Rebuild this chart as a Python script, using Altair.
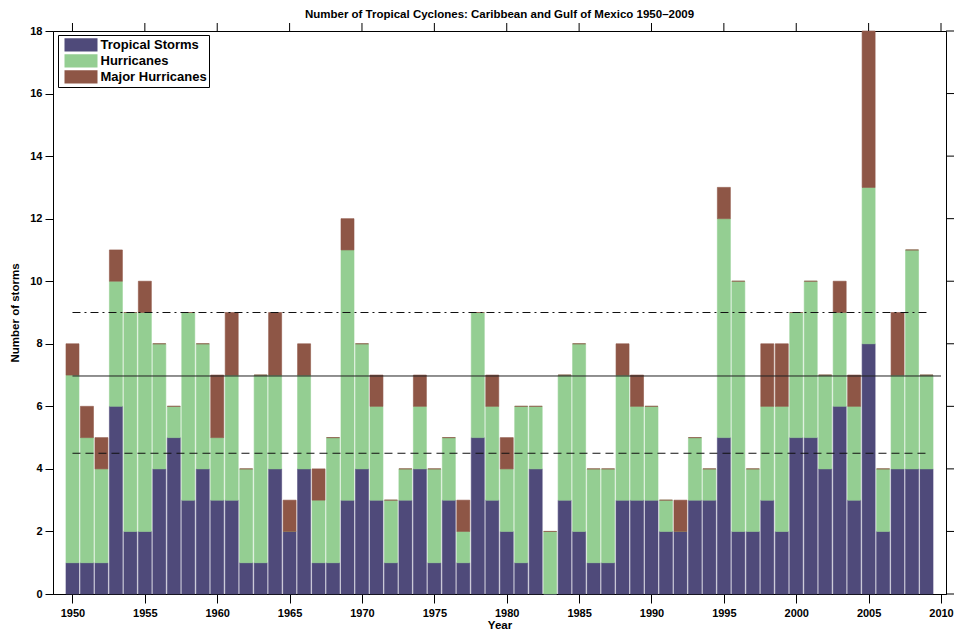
import altair as alt
import pandas as pd

years = list(range(1950, 2010))
tropical_storms = [1, 1, 1, 6, 2, 2, 4, 5, 3, 4,
                   3, 3, 1, 1, 4, 2, 4, 1, 1, 3,
                   4, 3, 1, 3, 4, 1, 3, 1, 5, 3,
                   2, 1, 4, 0, 3, 2, 1, 1, 3, 3,
                   3, 2, 2, 3, 3, 5, 2, 2, 3, 2,
                   5, 5, 4, 6, 3, 8, 2, 4, 4, 4]
hurricanes = [6, 4, 3, 4, 7, 7, 4, 1, 6, 4,
              2, 4, 3, 6, 3, 0, 3, 2, 4, 8,
              4, 3, 2, 1, 2, 3, 2, 1, 4, 3,
              2, 5, 2, 2, 4, 6, 3, 3, 4, 3,
              3, 1, 0, 2, 1, 7, 8, 2, 3, 4,
              4, 5, 3, 3, 3, 5, 2, 3, 7, 3]
major_hurricanes = [1, 1, 1, 1, 0, 1, 0, 0, 0, 0,
                    2, 2, 0, 0, 2, 1, 1, 1, 0, 1,
                    0, 1, 0, 0, 1, 0, 0, 1, 0, 1,
                    1, 0, 0, 0, 0, 0, 0, 0, 1, 1,
                    0, 0, 1, 0, 0, 1, 0, 0, 2, 2,
                    0, 0, 0, 1, 1, 5, 0, 2, 0, 0]
series_names = ["Tropical Storms", "Hurricanes", "Major Hurricanes"]
series_colors = ["#4f4a7a", "#94ce92", "#8e5646"]

ref_kind = ["mean", "upper", "lower"]
ref_levels = [6.97, 9.0, 4.5]
ref_start = [1950, 1950, 1950]
ref_end = [2010, 2009, 2009]

x_ticks = list(range(1950, 2011, 5))
y_ticks = list(range(0, 19, 2))

FONT = "Liberation Sans"
W, H = 893, 563

rows = []
for i, yr in enumerate(years):
    for k, vals in enumerate([tropical_storms, hurricanes, major_hurricanes]):
        rows.append({"year": yr, "series": series_names[k], "count": vals[i], "order": k})
df = pd.DataFrame(rows)

ref_df = pd.DataFrame({"kind": ref_kind, "level": ref_levels, "x0": ref_start, "x1": ref_end})
top_tick_df = pd.DataFrame({"tx": x_ticks})
right_tick_df = pd.DataFrame({"ty": y_ticks})

x_scale = alt.Scale(domain=[1949, 2010], nice=False, zero=False)
y_scale = alt.Scale(domain=[0, 18], nice=False)

bars = alt.Chart(df).mark_bar(size=13, strokeWidth=0.6).encode(
    x=alt.X("year:Q", scale=x_scale,
            axis=alt.Axis(values=x_ticks, format="d", title="Year", orient="bottom",
                          labelPadding=4, titlePadding=1, tickSize=9)),
    y=alt.Y("count:Q", stack="zero", scale=y_scale,
            axis=alt.Axis(values=y_ticks, title="Number of storms", orient="left",
                          labelPadding=3, titlePadding=9, tickSize=8)),
    color=alt.Color("series:N",
                    scale=alt.Scale(domain=series_names, range=series_colors),
                    legend=alt.Legend(
                        title=None, orient="none", legendX=5, legendY=4,
                        symbolType="M-1,-0.4H1V0.4H-1Z", symbolSize=1089,
                        symbolStrokeWidth=0, symbolOffset=4.5, labelOffset=3,
                        clipHeight=15.8, rowPadding=0, padding=2,
                        strokeColor="black", fillColor="white",
                        labelFont=FONT, labelFontSize=13, labelFontWeight="bold",
                        labelColor="black")),
    stroke=alt.Stroke("series:N",
                      scale=alt.Scale(domain=series_names, range=series_colors),
                      legend=None),
    order=alt.Order("order:Q", sort="ascending"),
)

top_ticks = alt.Chart(top_tick_df).mark_rule(color="black", strokeWidth=1).encode(
    x=alt.X("tx:Q", scale=x_scale, axis=None),
    y=alt.value(0), y2=alt.value(-8))
right_ticks = alt.Chart(right_tick_df).mark_rule(color="black", strokeWidth=1).encode(
    y=alt.Y("ty:Q", scale=y_scale, axis=None),
    x=alt.value(W), x2=alt.value(W + 8))

def ref_rule(kind, **style):
    return alt.Chart(ref_df).transform_filter(alt.datum.kind == kind).mark_rule(
        strokeWidth=1, **style).encode(
        x=alt.X("x0:Q", scale=x_scale, axis=None),
        x2="x1:Q",
        y=alt.Y("level:Q", scale=y_scale, axis=None))

mean_rule = ref_rule("mean", color="#222222")
upper_rule = ref_rule("upper", color="#111111", strokeDash=[8, 4, 2, 4])
lower_rule = ref_rule("lower", color="#111111", strokeDash=[8, 5])

chart = alt.layer(bars, mean_rule, upper_rule, lower_rule, top_ticks, right_ticks).resolve_axis(
    x="independent", y="independent"
).properties(
    width=W, height=H,
    padding={"left": 45, "top": 23, "right": 8, "bottom": 42},
    autosize=alt.AutoSizeParams(type="none"),
    title=alt.Title("Number of Tropical Cyclones: Caribbean and Gulf of Mexico 1950\u20132009",
                    font=FONT, fontSize=11.5, fontWeight="bold", color="black",
                    anchor="middle", offset=2),
).configure_view(stroke="black", strokeWidth=1).configure_axis(
    grid=False, domainColor="black", domainWidth=1, tickColor="black", tickWidth=1,
    labelFont=FONT, labelFontSize=11, labelFontWeight="bold", labelColor="black",
    titleFont=FONT, titleFontSize=11.5, titleFontWeight="bold", titleColor="black",
)

chart.save("out.html", embed_options={"renderer": "svg", "actions": False})
